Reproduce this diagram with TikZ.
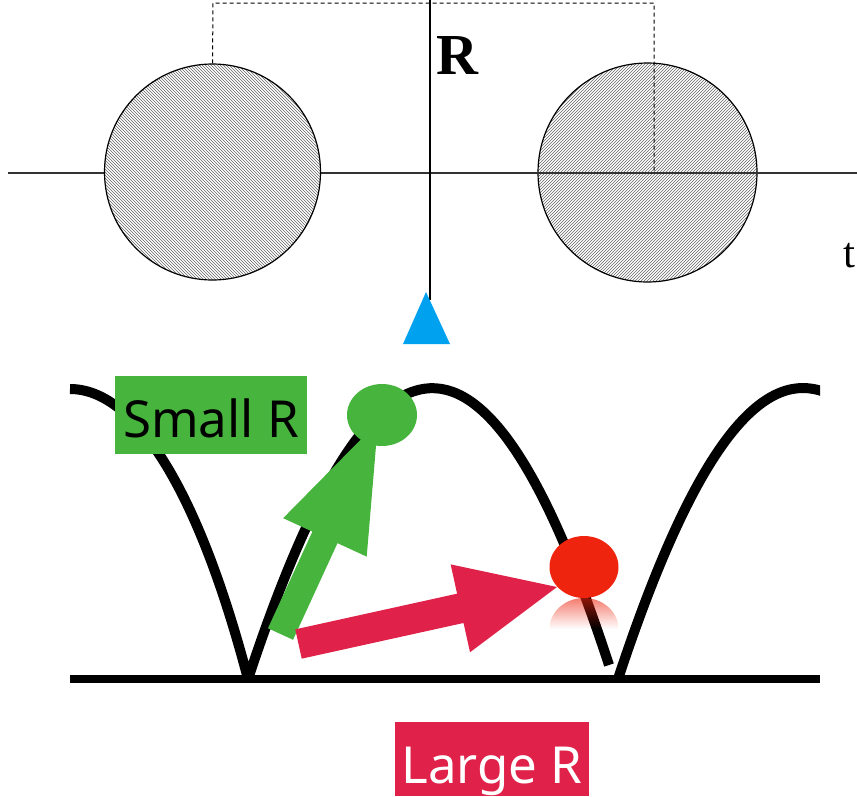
\documentclass[tikz,border=0pt]{standalone}
\usepackage{fontspec}
\setmainfont{Liberation Serif}
\newfontfamily\labelfont{Noto Sans}
\usetikzlibrary{patterns,calc,fadings,shapes.geometric}
\definecolor{grn}{RGB}{71,180,61}
\definecolor{crim}{RGB}{224,33,74}
\definecolor{rball}{RGB}{238,36,14}
\definecolor{sky}{RGB}{0,162,240}
\tikzfading[name=reflfade, top color=transparent!40, bottom color=transparent!100, middle color=transparent!100]
\begin{document}
\begin{tikzpicture}[x=1pt,y=-1pt,
  curvestroke/.style={line width=10pt, line join=miter},
  axisline/.style={line width=1.3pt, draw=black!80},
  guide/.style={line width=1pt, draw=black, dash pattern=on 4pt off 3pt},
  hatchcirc/.style={circle, draw, line width=1.2pt, inner sep=0pt, minimum size=#1,
     preaction={fill=white}},
  ball/.style={ellipse, inner sep=0pt},
  labelbox/.style={inner sep=0pt, anchor=base, font=\labelfont\fontsize{51pt}{60pt}\selectfont}
]
\useasboundingbox (0,0) rectangle (857,796);

% ---------- top part ----------
\node[hatchcirc=219pt, pattern=north east lines, pattern color=black!60] (rcirc) at (647.5,172.5) {};
\draw[axisline] (8,173) -- (857,173);
\node[hatchcirc=216pt, pattern=north west lines, pattern color=black!60] (lcirc) at (212.5,172) {};
\draw[line width=2.5pt] (430,0) -- (430,300);
\coordinate (dtl) at (213,3);
\coordinate (dtr) at (654,3);
\coordinate (dbr) at (654,173);
\draw[guide] (lcirc.north) -- (dtl) -- (dtr) -- (dbr);
\node[anchor=base, inner sep=0pt, font=\bfseries\fontsize{58pt}{60pt}\selectfont] (Rlab) at (457,74) {R};
\node[anchor=base, inner sep=0pt, font=\fontsize{43pt}{50pt}\selectfont] (tlab) at (849,267) {t};
\fill[sky] (426,292) -- (450,344) -- (403,344) -- cycle;

% ---------- bottom part ----------
\begin{scope}
  \clip (0,0) rectangle (857,679);
  \draw[curvestroke] (70,389) .. controls (133.5,389) and (197,485) .. (248,679)
     .. controls (374.3,296.1) and (487,291.1) .. (609,665);
\end{scope}
\begin{scope}
  \clip (600,0) rectangle (820,679);
  \draw[curvestroke] (618,679) .. controls (746,291) and (860,291) .. (988,679);
\end{scope}
\draw[line width=8pt] (70,679) -- (820,679);

% green arrow
\coordinate (gtail) at (280.5,634);
\coordinate (gtip) at (378,422);
\coordinate (ghead) at ($(gtip)!127pt!(gtail)$);
\fill[grn] ($(gtail)!13.8pt!90:(gtip)$) -- ($(ghead)!13.8pt!90:(gtip)$) -- ($(ghead)!46pt!90:(gtip)$)
  -- (gtip) -- ($(ghead)!46pt!-90:(gtip)$) -- ($(ghead)!13.8pt!-90:(gtip)$) -- ($(gtail)!13.8pt!-90:(gtip)$) -- cycle;

% red arrow
\coordinate (rtail) at (298.5,644);
\coordinate (rtip) at (557,587);
\coordinate (rhead) at ($(rtip)!99pt!(rtail)$);
\fill[crim] ($(rtail)!15pt!90:(rtip)$) -- ($(rhead)!15pt!90:(rtip)$) -- ($(rhead)!45pt!90:(rtip)$)
  -- (rtip) -- ($(rhead)!45pt!-90:(rtip)$) -- ($(rhead)!15pt!-90:(rtip)$) -- ($(rtail)!15pt!-90:(rtip)$) -- cycle;

% balls
\node[ball, fill=grn, minimum width=70pt, minimum height=62pt] (gball) at (382,415) {};
\node[ball, fill=rball, minimum width=69pt, minimum height=62pt] (rballn) at (584,567) {};
\begin{scope}
  \clip (545,598) rectangle (625,632);
  \fill[rball, path fading=reflfade] (584,629) ellipse [x radius=34.5pt, y radius=31pt];
\end{scope}

% labels
\node[labelbox, fill=grn, minimum width=192pt, text height=61pt, text depth=17pt] (smallR) at (211,437) {Small R};
\node[labelbox, fill=crim, text=white, minimum width=194pt, text height=61pt, text depth=13pt] (largeR) at (492,783) {Large R};
\end{tikzpicture}
\end{document}
